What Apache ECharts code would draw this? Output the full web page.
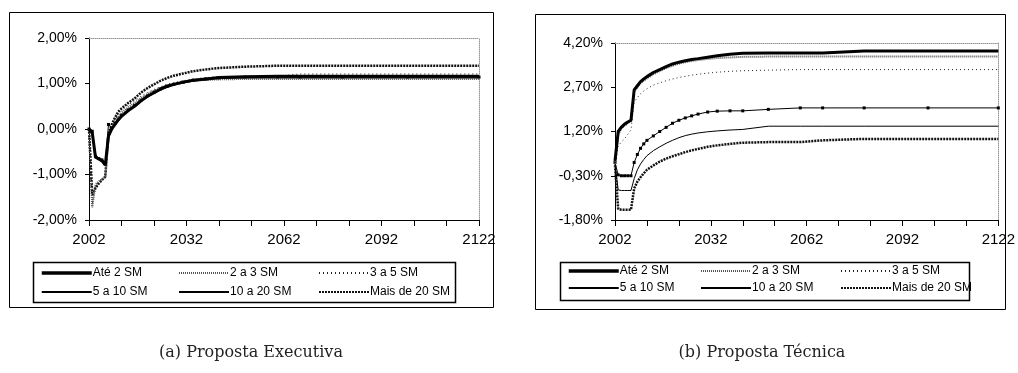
<!DOCTYPE html>
<html>
<head>
<meta charset="utf-8">
<script src="https://cdn.jsdelivr.net/npm/echarts@6/dist/echarts.min.js"></script>
<style>
html,body{margin:0;padding:0;background:#fff;}
#c{width:1018px;height:373px;}
</style>
</head>
<body>
<div id="c"></div>
<script>
// ---------- data ----------
const years = [2002,2003,2004,2005,2006,2007,2008,2009,2010,2011,2012,2014,2016,2018,2020,2022,2024,2026,2028,2031,2034,2038,2042,2050,2060,2067,2080,2100,2122];
const seriesNames = ['Até 2 SM','2 a 3 SM','3 a 5 SM','5 a 10 SM','10 a 20 SM','Mais de 20 SM'];

// (a) Proposta Executiva, values in %
const aAte2   = [0,-0.08,-0.62,-0.66,-0.70,-0.79,-0.15,0.00,0.10,0.20,0.28,0.40,0.50,0.62,0.72,0.80,0.88,0.94,0.98,1.03,1.07,1.10,1.13,1.15,1.16,1.16,1.16,1.16,1.16];
const a2a3    = [0,-1.72,-1.22,-1.15,-1.10,-1.05,-0.20,0.02,0.15,0.27,0.35,0.47,0.57,0.68,0.77,0.84,0.90,0.95,0.99,1.03,1.06,1.08,1.09,1.10,1.10,1.10,1.10,1.10,1.10];
const a3a5    = [0,-1.65,-1.25,-1.18,-1.12,-1.07,-0.15,0.08,0.20,0.32,0.40,0.52,0.62,0.72,0.80,0.87,0.93,0.98,1.02,1.06,1.10,1.13,1.15,1.16,1.16,1.21,1.21,1.21,1.21];
const a5a10   = [0,-0.05,-0.60,-0.65,-0.68,-0.75,0.10,0.02,0.12,0.22,0.30,0.42,0.52,0.63,0.73,0.81,0.88,0.94,0.98,1.03,1.07,1.10,1.12,1.14,1.14,1.14,1.14,1.14,1.14];
const a10a20  = [0,-0.03,-0.58,-0.63,-0.67,-0.73,-0.12,0.00,0.10,0.19,0.27,0.39,0.49,0.60,0.70,0.78,0.85,0.91,0.96,1.01,1.05,1.08,1.11,1.12,1.12,1.12,1.12,1.12,1.12];
const aMais20 = [0,-1.45,-1.30,-1.20,-1.12,-1.05,-0.10,0.10,0.25,0.38,0.45,0.57,0.67,0.80,0.90,0.98,1.06,1.12,1.17,1.22,1.27,1.31,1.34,1.37,1.39,1.39,1.39,1.39,1.39];

// (b) Proposta Técnica, values in %
const bAte2   = [0.20,1.20,1.35,1.45,1.52,1.58,2.61,2.75,2.89,2.98,3.06,3.20,3.30,3.40,3.49,3.55,3.60,3.64,3.67,3.72,3.77,3.82,3.85,3.86,3.86,3.86,3.93,3.93,3.93];
const b2a3    = [0.10,1.10,1.30,1.40,1.48,1.55,2.55,2.70,2.83,2.92,3.00,3.14,3.25,3.35,3.43,3.50,3.55,3.59,3.62,3.66,3.69,3.71,3.73,3.74,3.74,3.74,3.74,3.74,3.74];
const b3a5    = [0.00,0.70,0.85,0.95,1.10,1.25,2.20,2.35,2.48,2.57,2.65,2.77,2.85,2.92,2.98,3.03,3.07,3.11,3.14,3.18,3.21,3.24,3.26,3.28,3.30,3.30,3.30,3.30,3.30];
const b5a10   = [0.15,-0.27,-0.30,-0.30,-0.30,-0.30,0.15,0.42,0.63,0.78,0.90,1.05,1.20,1.34,1.48,1.58,1.66,1.73,1.79,1.86,1.89,1.90,1.90,1.95,2.00,2.00,2.00,2.00,2.00];
const b10a20  = [0.10,-0.78,-0.80,-0.80,-0.80,-0.80,-0.40,-0.10,0.10,0.25,0.38,0.55,0.68,0.80,0.90,0.99,1.06,1.11,1.15,1.19,1.22,1.25,1.27,1.38,1.38,1.38,1.38,1.38,1.38];
const bMais20 = [0.05,-1.42,-1.45,-1.45,-1.45,-1.45,-0.73,-0.50,-0.35,-0.22,-0.10,0.05,0.18,0.28,0.36,0.43,0.50,0.56,0.61,0.68,0.73,0.78,0.82,0.84,0.84,0.90,0.95,0.95,0.95];

const aTicks = {min:-2, max:2, interval:1};
const bTicks = {min:-1.8, max:4.2, interval:1.5};
const xTicks = {min:2002, max:2122, interval:10, labelEvery:30};

// ---------- styling ----------
const styles = [
  {lineStyle:{color:'#000', width:3, type:'solid'}, symbol:'none'},
  {lineStyle:{color:'#555', width:2, type:[1,1]}, symbol:'none'},
  {lineStyle:{color:'#222', width:1, type:[1,3]}, symbol:'none'},
  {lineStyle:{color:'#000', width:1, type:'solid'}, symbol:'rect', symbolSize:3},
  {lineStyle:{color:'#000', width:1, type:'solid'}, symbol:'none'},
  {lineStyle:{color:'#111', width:2.5, type:[2,1]}, symbol:'none'}
];
const aData = [aAte2,a2a3,a3a5,a5a10,a10a20,aMais20];
const bData = [bAte2,b2a3,b3a5,b5a10,b10a20,bMais20];

const fmtPct = v => v.toFixed(2).replace('.', ',') + '%';
const labelFont = {fontFamily:'Liberation Sans', fontSize:14, color:'#000'};

function xAxes(grid){
  return [
    {type:'value', gridIndex:grid, min:xTicks.min, max:xTicks.max, interval:xTicks.interval,
     axisLine:{show:true, onZero:false, lineStyle:{color:'#000', width:1}},
     axisTick:{show:true, inside:false, length:6, lineStyle:{color:'#000'}},
     axisLabel:Object.assign({margin:12, showMaxLabel:true, showMinLabel:true,
       formatter:v => ((v - xTicks.min) % xTicks.labelEvery === 0) ? String(v) : ''}, labelFont, {fontSize:15}),
     splitLine:{show:false}},
    {type:'value', gridIndex:grid, position:'top', min:xTicks.min, max:xTicks.max,
     axisLine:{show:true, onZero:false, lineStyle:{color:'#999', width:1, type:'dotted'}},
     axisTick:{show:false}, axisLabel:{show:false}, splitLine:{show:false}}
  ];
}
function yAxes(grid, t){
  return [
    {type:'value', gridIndex:grid, min:t.min, max:t.max, interval:t.interval,
     axisLine:{show:true, onZero:false, lineStyle:{color:'#000', width:1}},
     axisTick:{show:true, inside:false, length:4, lineStyle:{color:'#000'}},
     axisLabel:Object.assign({margin:12, formatter:v => fmtPct(v)}, labelFont),
     splitLine:{show:false}},
    {type:'value', gridIndex:grid, position:'right', min:t.min, max:t.max, interval:t.interval,
     axisLine:{show:true, onZero:false, lineStyle:{color:'#999', width:1, type:'dotted'}},
     axisTick:{show:false}, axisLabel:{show:false}, splitLine:{show:false}}
  ];
}

const series = [];
[aData, bData].forEach((set, g) => {
  set.forEach((vals, i) => {
    series.push(Object.assign({
      name: seriesNames[i], type:'line', xAxisIndex:g*2, yAxisIndex:g*2,
      data: years.map((y, k) => [y, vals[k]]),
      showSymbol: styles[i].symbol !== 'none',
      itemStyle:{color:'#000'},
      animation:false, silent:true, z: 10 - i
    }, styles[i]));
  });
});

function legends(cols, top, gap){
  const colsIdx = [[0,3],[1,4],[2,5]];
  return colsIdx.map((d, c) => ({
    orient:'vertical', left:cols[c], top:top, itemGap:gap, itemWidth:50, itemHeight:12,
    padding:0, selectedMode:false,
    data:d.map(i => i === 0
      ? {name:seriesNames[i], itemStyle:{opacity:0}, lineStyle:{width:3.5}}
      : {name:seriesNames[i], itemStyle:{opacity:0}}),
    textStyle:{fontFamily:'Liberation Sans', fontSize:12, color:'#000', padding:[0,0,0,-4]}
  }));
}

const chart = echarts.init(document.getElementById('c'), null, {renderer:'canvas'});
chart.setOption({
  animation:false,
  backgroundColor:'#fff',
  grid:[
    {left:89, top:38, width:390, height:182},
    {left:615, top:43, width:387, height:177}
  ],
  xAxis:[...xAxes(0), ...xAxes(1)],
  yAxis:[...yAxes(0, aTicks), ...yAxes(1, bTicks)],
  legend:[...legends([40,178,318], 267, 7), ...legends([567,700,840], 265, 5)],
  series: series,
  graphic:[
    {type:'rect', z:100, shape:{x:9.5, y:12.5, width:484, height:295}, style:{fill:'none', stroke:'#000', lineWidth:1}},
    {type:'rect', z:100, shape:{x:535.5, y:14.5, width:470, height:295}, style:{fill:'none', stroke:'#000', lineWidth:1}},
    {type:'rect', z:100, shape:{x:33.5, y:262.5, width:422, height:40}, style:{fill:'none', stroke:'#000', lineWidth:1.5}},
    {type:'rect', z:100, shape:{x:560.5, y:262.5, width:409, height:38}, style:{fill:'none', stroke:'#000', lineWidth:1.5}},
    {type:'text', z:100, x:251, y:353, style:{text:'(a) Proposta Executiva', font:'16px "DejaVu Serif"', fill:'#222', align:'center', verticalAlign:'middle'}},
    {type:'text', z:100, x:762, y:353, style:{text:'(b) Proposta Técnica', font:'16px "DejaVu Serif"', fill:'#222', align:'center', verticalAlign:'middle'}}
  ]
});
</script>
</body>
</html>
